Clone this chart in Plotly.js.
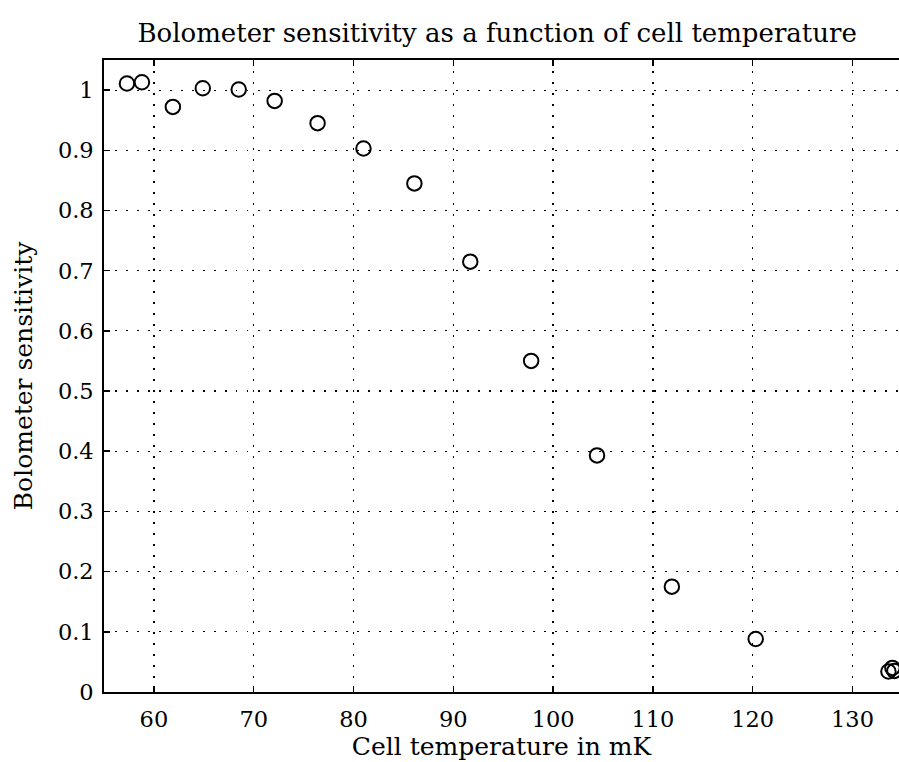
<!DOCTYPE html>
<html>
<head>
<meta charset="utf-8">
<script src="https://cdn.plot.ly/plotly-3.0.1.min.js"></script>
<style>html,body{margin:0;padding:0;background:#fff;}#chart{width:899px;height:762px;}</style>
</head>
<body>
<div id="chart"></div>
<script>
const temperatureMK = [57.3, 58.8, 61.9, 64.9, 68.5, 72.1, 76.4, 81.0, 86.1, 91.7, 97.8, 104.4, 111.9, 120.3, 133.6, 134.0, 134.2];
const sensitivity = [1.011, 1.013, 0.972, 1.003, 1.001, 0.982, 0.945, 0.903, 0.845, 0.715, 0.550, 0.393, 0.175, 0.088, 0.034, 0.040, 0.035];
const xTicks = [60, 70, 80, 90, 100, 110, 120, 130];
const yTicks = [0, 0.1, 0.2, 0.3, 0.4, 0.5, 0.6, 0.7, 0.8, 0.9, 1];
const yTickText = ['0', '0.1', '0.2', '0.3', '0.4', '0.5', '0.6', '0.7', '0.8', '0.9', '1'];

const fontFam = 'DejaVu Serif, Liberation Serif, serif';

const trace = {
  x: temperatureMK,
  y: sensitivity,
  type: 'scatter',
  mode: 'markers',
  marker: {symbol: 'circle-open', size: 14.5, color: '#000', line: {width: 2, color: '#000'}},
  hoverinfo: 'x+y',
  cliponaxis: false
};

const layout = {
  width: 899,
  height: 762,
  margin: {l: 104, r: 0, t: 60, b: 70},
  paper_bgcolor: '#fff',
  plot_bgcolor: '#fff',
  showlegend: false,
  font: {family: fontFam, color: '#000', size: 22},
  title: {text: 'Bolometer sensitivity as a function of cell temperature', font: {family: fontFam, size: 26, color: '#000'}, x: 0.553, xanchor: 'center', y: 0.957, yanchor: 'middle'},
  xaxis: {
    range: [55, 134.66],
    tickvals: xTicks,
    ticktext: xTicks.map(String),
    ticks: 'inside', ticklen: 6, tickwidth: 1.5, tickcolor: '#000',
    showline: true, linecolor: '#000', linewidth: 1.8, mirror: 'ticks',
    showgrid: true, gridcolor: '#000', griddash: '1.5px,9.5px', gridwidth: 1.2,
    zeroline: false,
    tickfont: {family: fontFam, size: 22.5, color: '#000'},
    ticklabelstandoff: 6,
    title: {text: 'Cell temperature in mK', font: {family: fontFam, size: 25, color: '#000'}, standoff: 1}
  },
  yaxis: {
    range: [0, 1.05],
    tickvals: yTicks,
    ticktext: yTickText,
    ticks: 'inside', ticklen: 6, tickwidth: 1.5, tickcolor: '#000',
    showline: true, linecolor: '#000', linewidth: 1.8, mirror: false,
    showgrid: true, gridcolor: '#000', griddash: '1.5px,9.5px', gridwidth: 1.2,
    zeroline: false,
    tickfont: {family: fontFam, size: 22.5, color: '#000'},
    ticklabelstandoff: 4,
    title: {text: 'Bolometer sensitivity', font: {family: fontFam, size: 25, color: '#000'}, standoff: 18}
  }
};

Plotly.newPlot('chart', [trace], layout, {displayModeBar: false, staticPlot: true});
</script>
</body>
</html>
